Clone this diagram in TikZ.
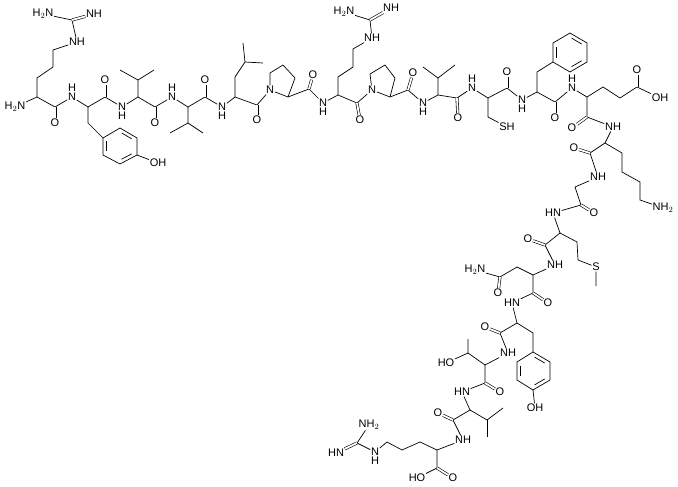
\documentclass[tikz,border=0pt]{standalone}
\usepackage{fontspec}
\setmainfont{Liberation Sans}
\usetikzlibrary{calc}
\begin{document}
\begin{tikzpicture}[x=1pt,y=-1pt,
  every node/.style={font=\fontsize{11}{11}\selectfont},
  atm/.style={inner sep=0.6pt},
  hu/.style={label={[inner sep=0pt,label distance=0.6pt,font=\fontsize{11}{11}\selectfont]90:H}},
  hd/.style={label={[inner sep=0pt,label distance=0.6pt,font=\fontsize{11}{11}\selectfont]-90:H}},
  bd/.style={line width=0.7pt},
  db/.style={double,double distance=1.8pt,line width=0.6pt}]
\path[use as bounding box] (0,0) rectangle (678,487);
\newcommand\benz[7]{%
  \draw[bd] (#1)--(#2)--(#3)--(#4)--(#5)--(#6)--cycle;
  \draw[bd] ($($(#7)!0.78!(#1)$)!0.12!($(#7)!0.78!(#2)$)$)--($($(#7)!0.78!(#1)$)!0.88!($(#7)!0.78!(#2)$)$);
  \draw[bd] ($($(#7)!0.78!(#3)$)!0.12!($(#7)!0.78!(#4)$)$)--($($(#7)!0.78!(#3)$)!0.88!($(#7)!0.78!(#4)$)$);
  \draw[bd] ($($(#7)!0.78!(#5)$)!0.12!($(#7)!0.78!(#6)$)$)--($($(#7)!0.78!(#5)$)!0.88!($(#7)!0.78!(#6)$)$);}
% ---- Arg1
\node[atm] (g1n1) at (43,14) {H$_2$N};
\node[atm] (g1n2) at (94,14) {NH};
\coordinate (g1c) at (72,20);
\node[atm] (g1n3) at (77,42) {NH};
\coordinate (r1a) at (53,50); \coordinate (r1b) at (53,67); \coordinate (r1c) at (37,78);
\coordinate (a1) at (37,97);
\node[atm] (n1) at (15,107) {H$_2$N};
\coordinate (c1) at (55,107); \node[atm] (o1) at (55,123) {O};
\node[atm,hu] (n2) at (72,97) {N};
\coordinate (t1a) at (88,107); \coordinate (t1b) at (88,123);
\coordinate (y1a) at (103,138); \coordinate (y1b) at (103,155); \coordinate (y1c) at (120,164);
\coordinate (y1d) at (137,155); \coordinate (y1e) at (137,138); \coordinate (y1f) at (120,128);
\coordinate (y1m) at (120,146);
\node[atm] (oh1) at (158,163) {OH};
\coordinate (c2) at (105,97); \node[atm] (o2) at (105,80) {O};
\node[atm,hd] (n3) at (122,107) {N};
\coordinate (v1a) at (138,97); \coordinate (v1b) at (138,80); \coordinate (v1c) at (120,70); \coordinate (v1d) at (154,70);
\coordinate (c3) at (155,107); \node[atm] (o3) at (155,123) {O};
\node[atm,hu] (n4) at (172,97) {N};
\coordinate (v2a) at (188,107); \coordinate (v2b) at (188,123); \coordinate (v2c) at (170,133); \coordinate (v2d) at (203,133);
\coordinate (c4) at (205,97); \node[atm] (o4) at (205,80) {O};
\node[atm,hd] (n5) at (222,107) {N};
% ---- Leu, Pro, Arg, Pro
\coordinate (l1a) at (235,97); \coordinate (l1b) at (235,77); \coordinate (l1c) at (245,62); \coordinate (l1d) at (243,43); \coordinate (l1e) at (263,63);
\coordinate (c5) at (257,105); \node[atm] (o5) at (257,120) {O};
\node[atm] (p1n) at (270,90) {N};
\coordinate (p1b) at (288,97); \coordinate (p1c) at (295,78); \coordinate (p1d) at (283,65); \coordinate (p1e) at (270,73);
\coordinate (c6) at (309,89); \node[atm] (o6) at (313,75) {O};
\node[atm,hd] (n6) at (323,103) {N};
\coordinate (r2a) at (338,95); \coordinate (r2b) at (338,77); \coordinate (r2c) at (353,67); \coordinate (r2d) at (353,49);
\node[atm] (g2n3) at (372,38) {NH};
\coordinate (g2c) at (370,20);
\node[atm] (g2n1) at (344,12) {H$_2$N};
\node[atm] (g2n2) at (391,8) {NH};
\coordinate (c7) at (357,103); \node[atm] (o7) at (360,120) {O};
\node[atm] (p2n) at (372,90) {N};
\coordinate (p2b) at (390,97); \coordinate (p2c) at (395,78); \coordinate (p2d) at (385,65); \coordinate (p2e) at (370,74);
\coordinate (c8) at (408,90); \node[atm] (o8) at (413,73) {O};
\node[atm,hd] (n7) at (423,103) {N};
\coordinate (v3a) at (438,95); \coordinate (v3b) at (438,78); \coordinate (v3c) at (423,67); \coordinate (v3d) at (455,65);
\coordinate (c9) at (457,98); \node[atm] (o9) at (458,118) {O};
\node[atm,hu] (n8) at (472,88) {N};
\coordinate (cya) at (488,98); \coordinate (cyb) at (488,117); \node[atm] (sh) at (507,127) {SH};
\coordinate (c10) at (507,88); \node[atm] (o10) at (507,72) {O};
\node[atm,hd] (n9) at (522,100) {N};
\coordinate (pha) at (537,92); \coordinate (phb) at (537,72);
\coordinate (f1) at (553,62); \coordinate (f2) at (553,43); \coordinate (f3) at (570,33);
\coordinate (f4) at (587,43); \coordinate (f5) at (587,62); \coordinate (f6) at (570,72); \coordinate (fm) at (570,52);
\coordinate (c11) at (555,102); \node[atm] (o11) at (555,118) {O};
\node[atm,hu] (n10) at (572,88) {N};
\coordinate (ga) at (587,97); \coordinate (gb) at (603,87); \coordinate (gc) at (620,98); \coordinate (gd) at (637,87);
\node[atm] (go1) at (637,70) {O}; \node[atm] (go2) at (660,98) {OH};
\coordinate (c12) at (587,117); \node[atm] (o12) at (572,128) {O};
\node[atm] (n11) at (613,127) {NH};
\coordinate (ka) at (605,143); \coordinate (kb) at (622,153); \coordinate (kc) at (622,172); \coordinate (kd) at (640,182); \coordinate (ke) at (640,200);
\node[atm] (kn) at (663,208) {NH$_2$};
\coordinate (c13) at (590,153); \node[atm] (o13) at (574,148) {O};
\node[atm] (n12) at (598,177) {NH};
\coordinate (gly) at (575,187); \coordinate (c14) at (581,205); \node[atm] (o14) at (594,213) {O};
\node[atm] (n13) at (553,213) {HN};
\coordinate (ma) at (560,233); \coordinate (mb) at (577,242); \coordinate (mc) at (578,260);
\node[atm] (ms) at (596,267) {S}; \coordinate (md) at (596,286);
\coordinate (c15) at (545,245); \node[atm] (o15) at (528,239) {O};
\node[atm] (n14) at (555,265) {NH};
\coordinate (asa) at (533,275); \coordinate (asb) at (517,267); \coordinate (asc) at (500,277);
\node[atm] (asn) at (475,270) {H$_2$N}; \node[atm] (aso) at (498,293) {O};
\coordinate (c16) at (533,293); \node[atm] (o16) at (548,303) {O};
\node[atm] (n15) at (512,303) {HN};
\coordinate (y2a) at (517,323); \coordinate (y2b) at (533,333);
\coordinate (e1) at (533,352); \coordinate (e2) at (550,362); \coordinate (e3) at (550,380);
\coordinate (e4) at (533,390); \coordinate (e5) at (517,380); \coordinate (e6) at (517,362); \coordinate (em) at (533,371);
\node[atm] (oh2) at (535,408) {OH};
\coordinate (c17) at (500,333); \node[atm] (o17) at (485,327) {O};
\node[atm] (n16) at (508,353) {NH};
\coordinate (tha) at (485,365); \coordinate (thb) at (468,353); \coordinate (thc) at (468,339);
\node[atm] (tho) at (446,363) {HO};
\coordinate (c18) at (485,383); \node[atm] (o18) at (500,392) {O};
\node[atm] (n17) at (462,392) {HN};
\coordinate (v4a) at (470,410); \coordinate (v4b) at (487,420); \coordinate (v4c) at (503,408); \coordinate (v4d) at (487,437);
\coordinate (c19) at (453,420); \node[atm] (o19) at (438,413) {O};
\node[atm] (n18) at (463,440) {NH};
\coordinate (r3a) at (437,450); \coordinate (r3b) at (420,442); \coordinate (r3c) at (402,450); \coordinate (r3d) at (387,442);
\node[atm,hd] (g3n) at (375,452) {N};
\coordinate (g3c) at (357,443);
\node[atm] (g3n1) at (369,425) {NH$_2$};
\node[atm] (g3n2) at (336,453) {HN};
\coordinate (cooh) at (437,468); \node[atm] (co1) at (453,478) {O}; \node[atm] (co2) at (417,478) {HO};
% ---- single bonds
\draw[bd] (g1n1)--(g1c)--(g1n3)--(r1a)--(r1b)--(r1c)--(a1);
\draw[bd] (n1)--(a1)--(c1)--(n2)--(t1a)--(c2)--(n3)--(v1a)--(c3)--(n4)--(v2a)--(c4)--(n5)--(l1a)--(c5)--(p1n)--(p1b)--(c6)--(n6)--(r2a)--(c7)--(p2n)--(p2b)--(c8)--(n7)--(v3a)--(c9)--(n8)--(cya)--(c10)--(n9)--(pha)--(c11)--(n10)--(ga)--(c12)--(n11)--(ka)--(c13)--(n12)--(gly)--(c14)--(n13)--(ma)--(c15)--(n14)--(asa)--(c16)--(n15)--(y2a)--(c17)--(n16)--(tha)--(c18)--(n17)--(v4a)--(c19)--(n18)--(r3a)--(cooh)--(co2);
\draw[bd] (t1a)--(t1b)--(y1a); \draw[bd] (y1d)--(oh1);
\draw[bd] (v1a)--(v1b)--(v1c); \draw[bd] (v1b)--(v1d);
\draw[bd] (v2a)--(v2b)--(v2c); \draw[bd] (v2b)--(v2d);
\draw[bd] (l1a)--(l1b)--(l1c)--(l1d); \draw[bd] (l1c)--(l1e);
\draw[bd] (p1b)--(p1c)--(p1d)--(p1e)--(p1n);
\draw[bd] (r2a)--(r2b)--(r2c)--(r2d)--(g2n3)--(g2c)--(g2n1);
\draw[bd] (p2b)--(p2c)--(p2d)--(p2e)--(p2n);
\draw[bd] (v3a)--(v3b)--(v3c); \draw[bd] (v3b)--(v3d);
\draw[bd] (cya)--(cyb)--(sh);
\draw[bd] (pha)--(phb)--(f1);
\draw[bd] (ga)--(gb)--(gc)--(gd)--(go2);
\draw[bd] (ka)--(kb)--(kc)--(kd)--(ke)--(kn);
\draw[bd] (ma)--(mb)--(mc)--(ms)--(md);
\draw[bd] (asa)--(asb)--(asc)--(asn);
\draw[bd] (y2a)--(y2b)--(e1); \draw[bd] (e4)--(oh2);
\draw[bd] (tha)--(thb)--(thc); \draw[bd] (thb)--(tho);
\draw[bd] (v4a)--(v4b)--(v4c); \draw[bd] (v4b)--(v4d);
\draw[bd] (r3a)--(r3b)--(r3c)--(r3d)--(g3n)--(g3c)--(g3n1);
% ---- double bonds
\draw[db] (g1c)--(g1n2); \draw[db] (g2c)--(g2n2); \draw[db] (g3c)--(g3n2);
\draw[db] (c1)--(o1); \draw[db] (c2)--(o2); \draw[db] (c3)--(o3); \draw[db] (c4)--(o4);
\draw[db] (c5)--(o5); \draw[db] (c6)--(o6); \draw[db] (c7)--(o7); \draw[db] (c8)--(o8);
\draw[db] (c9)--(o9); \draw[db] (c10)--(o10); \draw[db] (c11)--(o11); \draw[db] (c12)--(o12);
\draw[db] (c13)--(o13); \draw[db] (c14)--(o14); \draw[db] (c15)--(o15); \draw[db] (c16)--(o16);
\draw[db] (c17)--(o17); \draw[db] (c18)--(o18); \draw[db] (c19)--(o19); \draw[db] (gd)--(go1);
\draw[db] (asc)--(aso); \draw[db] (cooh)--(co1);
% ---- rings
\benz{y1a}{y1b}{y1c}{y1d}{y1e}{y1f}{y1m}
\benz{f1}{f2}{f3}{f4}{f5}{f6}{fm}
\benz{e1}{e2}{e3}{e4}{e5}{e6}{em}
\end{tikzpicture}
\end{document}
